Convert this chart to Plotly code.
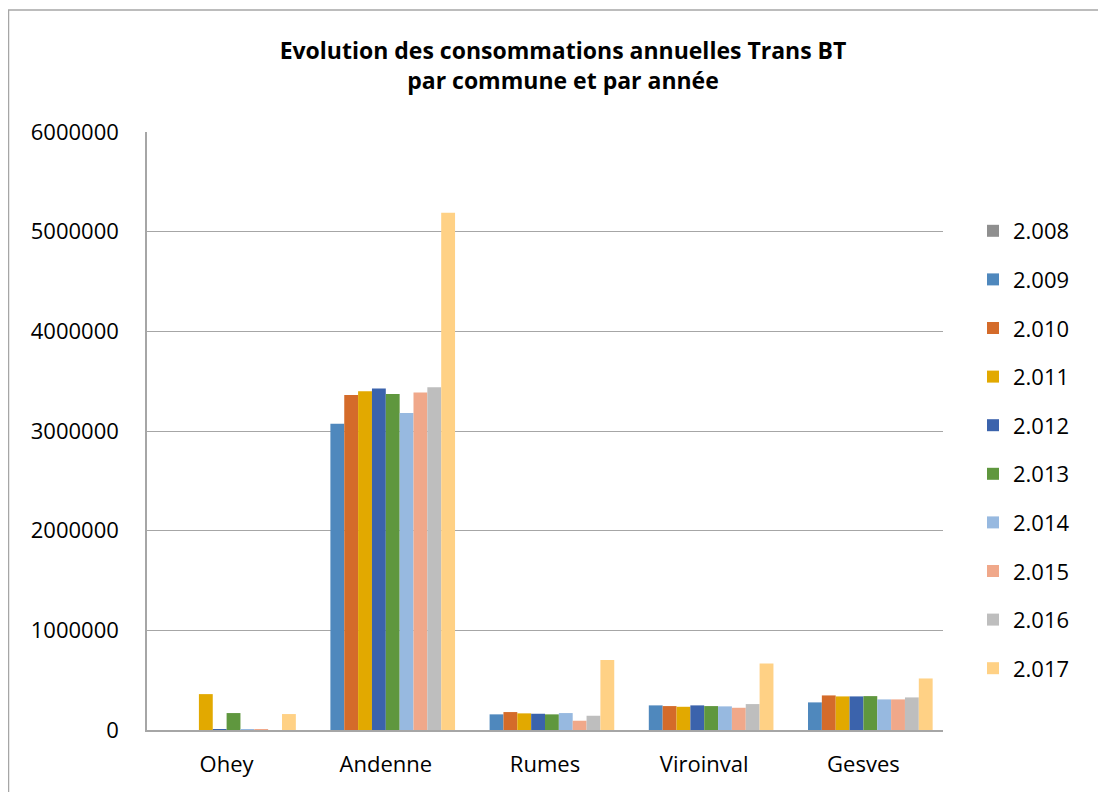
import plotly.graph_objects as go

communes = ["Ohey", "Andenne", "Rumes", "Viroinval", "Gesves"]
years = ["2.008", "2.009", "2.010", "2.011", "2.012", "2.013", "2.014", "2.015", "2.016", "2.017"]

v2008 = [0, 0, 0, 0, 0]
v2009 = [0, 3073000, 157000, 247000, 277000]
v2010 = [0, 3360000, 180000, 240000, 347000]
v2011 = [360000, 3400000, 167000, 233000, 337000]
v2012 = [10000, 3427000, 163000, 247000, 337000]
v2013 = [170000, 3370000, 157000, 240000, 340000]
v2014 = [5000, 3180000, 170000, 237000, 307000]
v2015 = [3000, 3387000, 93000, 223000, 307000]
v2016 = [0, 3440000, 143000, 260000, 327000]
v2017 = [160000, 5190000, 703000, 667000, 517000]

series = [v2008, v2009, v2010, v2011, v2012, v2013, v2014, v2015, v2016, v2017]
colors = ["#8F8F8F", "#4F88BD", "#D46B2A", "#E2A900", "#3B63AC", "#5F973E",
          "#97B9E0", "#F0A88A", "#BEBEBE", "#FFD185"]

FONT = "Open Sans, Lato, sans-serif"

fig = go.Figure()
for name, vals, col in zip(years, series, colors):
    fig.add_trace(go.Bar(
        x=communes, y=vals, name=name, legendgroup=name,
        marker=dict(color=col, line=dict(width=0)),
    ))

# page has an 8px body margin; figure coordinates = screen - 8
W, H = 1098, 784
ml, mt = 139, 124
mr, mb = W - 935, H - 722
pw, ph = W - ml - mr, H - mt - mb

def px(x):
    return (x - ml) / pw

def py(y):
    return (H - mb - y) / ph

GRID = "#A6A6A6"

fig.update_layout(
    width=W, height=H,
    margin=dict(l=ml, r=mr, t=mt, b=mb),
    paper_bgcolor="white", plot_bgcolor="white",
    barmode="group", bargap=0.13, bargroupgap=0,
    font=dict(family=FONT, size=22, color="#000000"),
    title=dict(
        text="<b>Evolution des consommations annuelles Trans BT<br>par commune et par année</b>",
        x=555 / W, xanchor="center", y=1 - 51 / H, yanchor="top",
        font=dict(family=FONT, size=23, color="#000000"),
    ),
    legend=dict(
        x=px(965), xanchor="left", y=py(202), yanchor="top",
        font=dict(family=FONT, size=22, color="#000000"),
        tracegroupgap=17, itemwidth=30, bgcolor="rgba(0,0,0,0)",
    ),
    xaxis=dict(
        showgrid=False, showline=True, linecolor=GRID, linewidth=2,
        ticks="", ticklabelstandoff=14, tickfont=dict(family=FONT, size=22),
    ),
    yaxis=dict(
        range=[0, 6000000], dtick=1000000, tickformat="d",
        showgrid=True, gridcolor=GRID, gridwidth=1,
        showline=True, linecolor=GRID, linewidth=1.5,
        ticks="", ticklabelstandoff=22,
        zeroline=False, tickfont=dict(family=FONT, size=22),
    ),
    shapes=[dict(
        type="rect", xref="paper", yref="paper",
        x0=px(0.5), x1=px(1200), y0=py(900), y1=py(2),
        line=dict(color="#A6A6A6", width=1.5), fillcolor="rgba(0,0,0,0)",
        layer="below",
    )],
)

fig.write_html("out.html")
